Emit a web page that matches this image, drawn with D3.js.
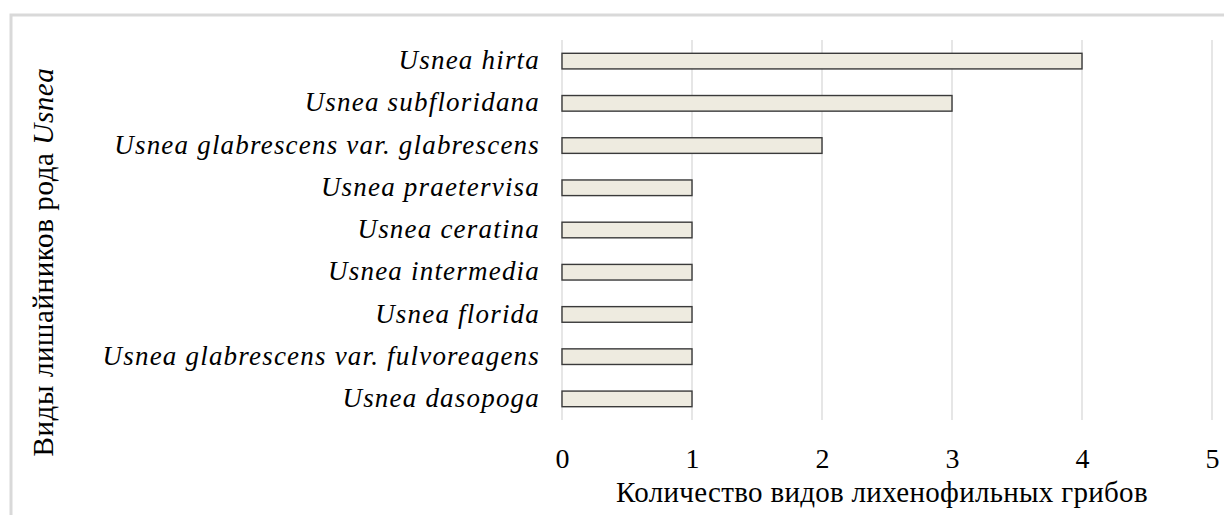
<!DOCTYPE html>
<html>
<head>
<script src="https://d3js.org/d3.v7.min.js"></script>
<style>
  body { margin: 0; background: #fff; }
</style>
</head>
<body>
<div id="chart"></div>
<script>
// данные
const species = [
  "Usnea hirta ",
  "Usnea subfloridana",
  "Usnea glabrescens var. glabrescens",
  "Usnea praetervisa",
  "Usnea ceratina",
  "Usnea intermedia",
  "Usnea florida",
  "Usnea glabrescens var. fulvoreagens",
  "Usnea dasopoga"
];
const counts = [4, 3, 2, 1, 1, 1, 1, 1, 1];
const xTicks = [0, 1, 2, 3, 4, 5];

const serif = "Liberation Serif";
const W = 1224, H = 515;
const margin = { top: 40, right: 12, bottom: 95, left: 562 };
const width = W - margin.left - margin.right;
const height = H - margin.top - margin.bottom;

const svg = d3.select("#chart").append("svg")
  .attr("width", W).attr("height", H);

// рамка
svg.append("path")
  .attr("d", `M11,${H} L11,15 L${W},15`)
  .attr("fill", "none").attr("stroke", "#d9d9d9").attr("stroke-width", 3);

const g = svg.append("g").attr("transform", `translate(${margin.left},${margin.top})`);

const x = d3.scaleLinear().domain([0, 5]).range([0, width]);
const y = d3.scaleBand().domain(species).range([0, height]).paddingInner(0.63).paddingOuter(0.315);

// сетка
g.append("g")
  .selectAll("line").data(xTicks).join("line")
  .attr("x1", d => x(d)).attr("x2", d => x(d))
  .attr("y1", 0).attr("y2", height)
  .attr("stroke", "#d9d9d9").attr("stroke-width", 1.3);

// столбцы
g.selectAll(".bar").data(species).join("rect")
  .attr("class", "bar")
  .attr("x", x(0))
  .attr("y", d => y(d))
  .attr("width", (d, i) => x(counts[i]) - x(0))
  .attr("height", y.bandwidth())
  .attr("fill", "#eeebe0").attr("stroke", "#3a3a3a").attr("stroke-width", 1.4);

// ось X
const xAxis = g.append("g")
  .attr("transform", `translate(0,${height})`)
  .call(d3.axisBottom(x).tickValues(xTicks).tickFormat(d3.format("d")).tickSize(0).tickPadding(28));
xAxis.select(".domain").remove();
xAxis.attr("font-family", null);
xAxis.selectAll("text")
  .style("font-family", serif)
  .style("font-size", "28px")
  .attr("fill", "#000");

// подписи категорий
const yAxis = g.append("g")
  .call(d3.axisLeft(y).tickSize(0).tickPadding(22));
yAxis.select(".domain").remove();
yAxis.attr("font-family", null);
yAxis.selectAll("text")
  .style("font-family", serif)
  .style("font-style", "italic")
  .style("font-size", "27px")
  .style("letter-spacing", "1.2px")
  .attr("fill", "#000")
  .attr("dy", "0.3em");

// заголовок оси X
svg.append("text")
  .attr("x", 882).attr("y", 502)
  .attr("text-anchor", "middle")
  .style("font-family", serif)
  .style("font-size", "29px")
  .style("letter-spacing", "0.3px")
  .text("Количество видов лихенофильных грибов");

// заголовок оси Y
const yt = svg.append("text")
  .attr("transform", "translate(53,262) rotate(-90)")
  .attr("text-anchor", "middle")
  .style("font-family", serif)
  .style("font-size", "29px")
  .style("letter-spacing", "0.6px");
yt.append("tspan").text("Виды лишайников рода ");
yt.append("tspan").style("font-style", "italic").text("Usnea");
</script>
</body>
</html>
